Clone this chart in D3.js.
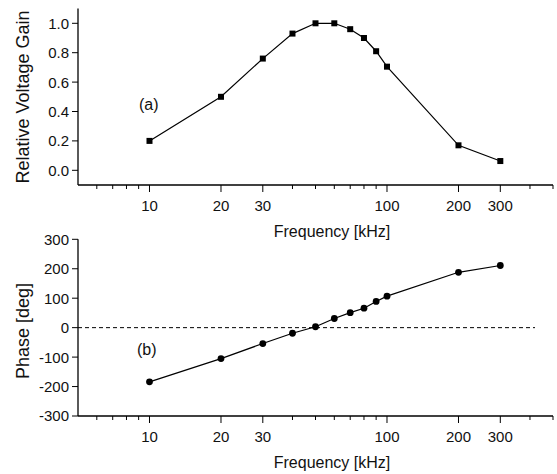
<!DOCTYPE html>
<html>
<head>
<meta charset="utf-8">
<script src="https://cdn.jsdelivr.net/npm/d3@7"></script>
<style>
  body { margin: 0; background: #fff; }
  svg { font-family: "Liberation Sans", Arial, sans-serif; }
</style>
</head>
<body>
<script>
// data
const freq = [10, 20, 30, 40, 50, 60, 70, 80, 90, 100, 200, 300]
const gain = [0.20, 0.50, 0.76, 0.93, 1.00, 1.00, 0.96, 0.90, 0.81, 0.705, 0.17, 0.063]
const phase = [-184, -105, -54, -19, 3, 31, 51, 66, 89, 107, 188, 211]
const xTicks = [10, 20, 30, 100, 200, 300]
const xMinor = [6, 7, 8, 9, 40, 50, 60, 70, 80, 90, 400, 500]
const gainTicks = [0.0, 0.2, 0.4, 0.6, 0.8, 1.0]
const phaseTicks = [-300, -200, -100, 0, 100, 200, 300]

const width = 557
const height = 474

const svg = d3.select('body').append('svg')
  .attr('width', width)
  .attr('height', height)

const x = d3.scaleLog().domain([5, 500]).range([78, 553])

const yGain = d3.scaleLinear().domain([-0.1, 1.1]).range([185, 8.6])
const yPhase = d3.scaleLinear().domain([-300, 300]).range([416, 239.3])

function drawPanel(y, ticks, fmt, axisY, top) {
  // x axis, major + minor ticks pointing down
  const gx = svg.append('g').attr('transform', `translate(0,${axisY})`)
  gx.append('line').attr('x1', x.range()[0]).attr('x2', x.range()[1])
    .attr('stroke', '#000').attr('stroke-width', 1.3)
  gx.selectAll('.minor').data(xMinor).enter().append('line')
    .attr('x1', d => x(d)).attr('x2', d => x(d))
    .attr('y1', 0).attr('y2', 4)
    .attr('stroke', '#000').attr('stroke-width', 1)
  gx.selectAll('.major').data(xTicks).enter().append('line')
    .attr('x1', d => x(d)).attr('x2', d => x(d))
    .attr('y1', 0).attr('y2', 7)
    .attr('stroke', '#000').attr('stroke-width', 1)
  gx.selectAll('text').data(xTicks).enter().append('text')
    .attr('x', d => x(d)).attr('y', 25.5)
    .attr('text-anchor', 'middle')
    .attr('font-size', 15).attr('fill', '#111')
    .text(d => d)

  // y axis
  const gy = svg.append('g').attr('transform', `translate(78,0)`)
  gy.append('line').attr('y1', y.range()[0]).attr('y2', y.range()[1])
    .attr('stroke', '#000').attr('stroke-width', 1.3)
  gy.selectAll('line.t').data(ticks).enter().append('line')
    .attr('class', 't')
    .attr('x1', -6).attr('x2', 0)
    .attr('y1', d => y(d)).attr('y2', d => y(d))
    .attr('stroke', '#000').attr('stroke-width', 1)
  gy.selectAll('text').data(ticks).enter().append('text')
    .attr('x', -9).attr('y', d => y(d))
    .attr('dy', '0.36em')
    .attr('text-anchor', 'end')
    .attr('font-size', 15).attr('fill', '#111')
    .text(fmt)

  svg.append('text')
    .attr('x', 332).attr('y', axisY + 52)
    .attr('text-anchor', 'middle')
    .attr('font-size', 16).attr('fill', '#111')
    .text('Frequency [kHz]')
}

drawPanel(yGain, gainTicks, d3.format('.1f'), 185, true)
drawPanel(yPhase, phaseTicks, d => d, 416, false)

// y titles
svg.append('text')
  .attr('transform', 'translate(29,97) rotate(-90)')
  .attr('text-anchor', 'middle')
  .attr('font-size', 18).attr('fill', '#111')
  .text('Relative Voltage Gain')

svg.append('text')
  .attr('transform', 'translate(29,331) rotate(-90)')
  .attr('text-anchor', 'middle')
  .attr('font-size', 18).attr('fill', '#111')
  .text('Phase [deg]')

// panel labels
svg.append('text').attr('x', 139).attr('y', 110)
  .attr('font-size', 16).attr('fill', '#111').text('(a)')
svg.append('text').attr('x', 137).attr('y', 355)
  .attr('font-size', 16).attr('fill', '#111').text('(b)')

// zero reference line in phase panel
svg.append('line')
  .attr('x1', 78).attr('x2', 535)
  .attr('y1', yPhase(0)).attr('y2', yPhase(0))
  .attr('stroke', '#000').attr('stroke-width', 1)
  .attr('stroke-dasharray', '4,3')

const gainData = freq.map((f, i) => ({f, v: gain[i]}))
const phaseData = freq.map((f, i) => ({f, v: phase[i]}))

svg.append('path')
  .datum(gainData)
  .attr('fill', 'none').attr('stroke', '#000').attr('stroke-width', 1.2)
  .attr('d', d3.line().x(d => x(d.f)).y(d => yGain(d.v)))

svg.selectAll('.sq').data(gainData).enter().append('rect')
  .attr('class', 'sq')
  .attr('x', d => x(d.f) - 3).attr('y', d => yGain(d.v) - 3)
  .attr('width', 6).attr('height', 6)
  .attr('fill', '#000')

svg.append('path')
  .datum(phaseData)
  .attr('fill', 'none').attr('stroke', '#000').attr('stroke-width', 1.2)
  .attr('d', d3.line().x(d => x(d.f)).y(d => yPhase(d.v)))

svg.selectAll('.dot').data(phaseData).enter().append('circle')
  .attr('class', 'dot')
  .attr('cx', d => x(d.f)).attr('cy', d => yPhase(d.v))
  .attr('r', 3.4)
  .attr('fill', '#000')
</script>
</body>
</html>
